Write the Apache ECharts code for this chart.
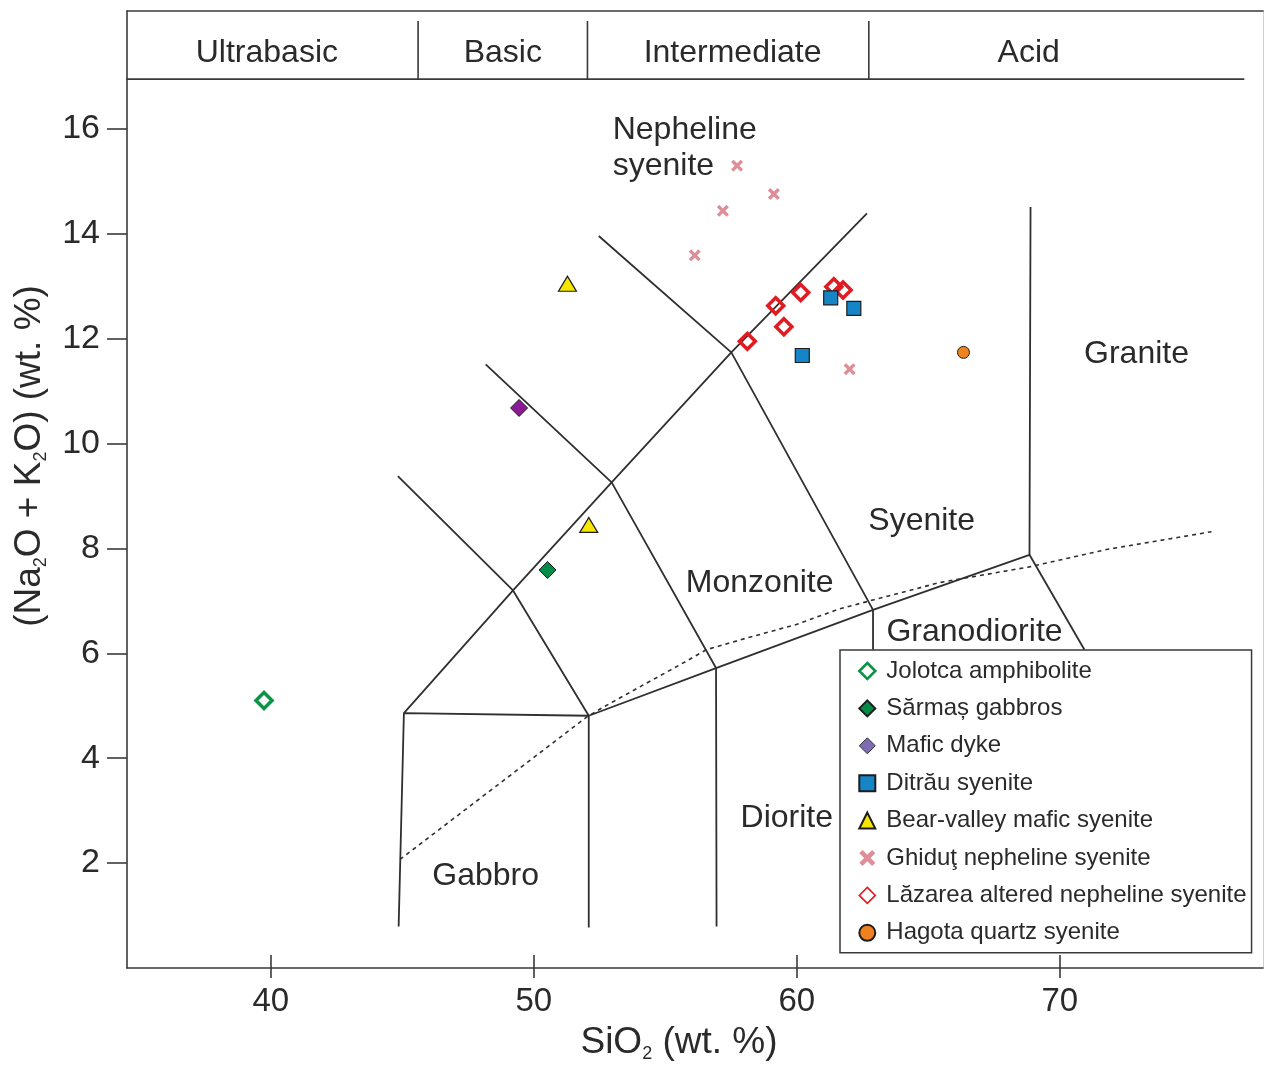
<!DOCTYPE html>
<html><head><meta charset="utf-8">
<script src="https://cdn.jsdelivr.net/npm/echarts@6/dist/echarts.min.js"></script>
<style>html,body{margin:0;padding:0;background:#fff}#c{width:1264px;height:1065px}</style>
</head><body><div id="c"></div>
<script>
// ---------- data ----------
const xTicks = [40, 50, 60, 70];
const yTicks = [2, 4, 6, 8, 10, 12, 14, 16];

const seriesNames = ['Jolotca amphibolite','Sărmaș gabbros','Mafic dyke','Ditrău syenite',
  'Bear-valley mafic syenite','Ghiduţ nepheline syenite','Lăzarea altered nepheline syenite','Hagota quartz syenite'];

const jolotca = [[39.74, 5.10]];
const sarmas = [[50.52, 7.59]];
const maficDyke = [[49.44, 10.68]];
const ditrau = [[61.29, 12.78], [62.17, 12.58], [60.21, 11.68]];
const bearValley = [[51.28, 13.05], [52.09, 8.45]];
const ghidut = [[57.73, 15.30], [59.13, 14.76], [57.19, 14.44], [56.12, 13.59], [62.01, 11.42]];
const lazarea = [[58.12, 11.95], [59.20, 12.63], [59.51, 12.23], [60.15, 12.88], [61.41, 12.99], [61.76, 12.93]];
const hagota = [[66.34, 11.74]];

// TAS field boundaries (SiO2, Na2O+K2O)
const boundaries = [
  [[44.86, 0.79], [45.06, 4.86], [52.09, 4.81], [52.09, 0.77]],
  [[45.06, 4.86], [49.21, 7.20], [52.96, 9.26], [57.51, 11.74], [62.67, 14.39]],
  [[44.83, 9.38], [49.21, 7.20], [52.09, 4.81]],
  [[48.17, 11.51], [52.96, 9.26], [56.93, 5.72], [56.95, 0.79]],
  [[52.47, 13.96], [57.51, 11.74], [62.90, 6.83], [62.90, 6.07]],
  [[52.09, 4.81], [56.93, 5.72], [62.90, 6.83], [68.85, 7.88], [68.89, 14.51]],
  [[68.85, 7.88], [70.94, 6.07]]
];
// alkaline / subalkaline divide
const alkalineDivide = [[44.91, 2.07], [52.05, 4.80], [52.70, 4.99], [54.28, 5.43], [55.55, 5.78],
  [56.56, 6.07], [58.08, 6.29], [59.98, 6.55], [61.63, 6.85], [62.77, 7.00], [65.43, 7.35],
  [68.85, 7.65], [71.78, 7.98], [75.77, 8.32]];

// header band (silica classes)
const headerNames = ['Ultrabasic', 'Basic', 'Intermediate', 'Acid'];
const headerCenters = [39.85, 48.82, 57.56, 68.82];
const headerDividers = [45.60, 52.04, 62.74];
const headerLineY = 16.95, headerTopY = 18.06, headerLineX = [33.77, 77.02], headerTextY = 17.51;

// field names
const fieldNames = ['Nepheline\nsyenite', 'Monzonite', 'Syenite', 'Granodiorite', 'Granite', 'Diorite', 'Gabbro'];
const fieldAnchors = [[53.00, 15.70], [58.59, 7.40], [64.75, 8.57], [66.76, 6.47], [72.92, 11.77], [59.62, 2.91], [48.17, 1.80]];
const fieldAlign = ['left', 'center', 'center', 'center', 'center', 'center', 'center'];

// ---------- chart ----------
const FONT = '"Liberation Sans", Arial, Helvetica, sans-serif';
const TXT = '#2a2a2a';
const LINE = '#2f2f2f';
const AX = '#3a3a3a';
const xMin = 34.53, xMax = 77.73, yMin = 0, yMax = 18.25;

const xPath = 'path://M0,2 L2,0 L5,3 L8,0 L10,2 L7,5 L10,8 L8,10 L5,7 L2,10 L0,8 L3,5 Z';

const series = [];
boundaries.forEach(seg => series.push({
  type: 'line', data: seg, symbol: 'none', silent: true, z: 1, clip: false,
  lineStyle: { color: LINE, width: 1.8 }
}));
series.push({
  type: 'line', data: alkalineDivide, symbol: 'none', silent: true, z: 1, smooth: false,
  lineStyle: { color: LINE, width: 1.6, type: [4, 4] }
});
// header band lines
series.push({
  type: 'line', data: headerLineX.map(x => [x, headerLineY]), symbol: 'none', silent: true, clip: false,
  lineStyle: { color: AX, width: 1.6 }
});
headerDividers.forEach(d => series.push({
  type: 'line', data: [[d, headerLineY], [d, headerTopY]], symbol: 'none', silent: true, clip: false,
  lineStyle: { color: AX, width: 1.6 }
}));
// header labels
series.push({
  type: 'scatter', symbolSize: 0, silent: true, z: 3, itemStyle: { opacity: 1 },
  data: headerNames.map((n, i) => ({ value: [headerCenters[i], headerTextY], name: n })),
  label: { show: true, position: 'inside', offset: [0, 3], formatter: p => p.name, fontSize: 32, color: TXT, fontFamily: FONT }
});
// field labels
series.push({
  type: 'scatter', symbolSize: 0, silent: true, z: 3, itemStyle: { opacity: 1 },
  data: fieldNames.map((n, i) => ({
    value: fieldAnchors[i], name: n,
    label: { align: fieldAlign[i] }
  })),
  label: { show: true, position: [0, 0], offset: [0, 3], verticalAlign: 'middle', formatter: p => p.name,
    fontSize: 32, lineHeight: 36, color: TXT, fontFamily: FONT }
});

const pts = (name, data, symbol, size, style) => ({
  type: 'scatter', name, data, symbol, symbolSize: size, z: 5,
  itemStyle: Object.assign({ opacity: 1 }, style)
});
series.push(pts(seriesNames[0], jolotca, 'diamond', 16, { color: 'rgba(255,255,255,0)', borderColor: '#0a9446', borderWidth: 3.5 }));
series.push(pts(seriesNames[1], sarmas, 'diamond', 17, { color: '#008d47', borderColor: '#1d1d1d', borderWidth: 1 }));
series.push(pts(seriesNames[2], maficDyke, 'diamond', 17, { color: '#8a1a95', borderColor: '#1d1d1d', borderWidth: 1 }));
series.push(pts(seriesNames[6], lazarea, 'diamond', 16, { color: 'rgba(255,255,255,0)', borderColor: '#e01b22', borderWidth: 3.5 }));
series.push(pts(seriesNames[3], ditrau, 'rect', 14, { color: '#1685c7', borderColor: '#1d1d1d', borderWidth: 1.2 }));
series.push(pts(seriesNames[4], bearValley, 'triangle', [18, 15], { color: '#f7e600', borderColor: '#1d1d1d', borderWidth: 1.2 }));
series.push(pts(seriesNames[5], ghidut, xPath, 12, { color: '#de8e98' }));
series.push(pts(seriesNames[7], hagota, 'circle', 12, { color: '#ef8220', borderColor: '#1d1d1d', borderWidth: 1 }));

const legendData = seriesNames.map(n => {
  if (n === 'Mafic dyke') return { name: n, itemStyle: { color: '#7d6bb3', borderColor: '#333', borderWidth: 1 } };
  if (n.indexOf('Lăzarea') === 0) return { name: n, itemStyle: { borderWidth: 1.6 } };
  if (n.indexOf('Jolotca') === 0) return { name: n, itemStyle: { borderWidth: 2.6 } };
  return { name: n };
});

const option = {
  animation: false,
  backgroundColor: '#fff',
  textStyle: { fontFamily: FONT },
  grid: { left: 127, right: 1, top: 11, bottom: 97 },
  xAxis: [
    { type: 'value', min: xMin, max: xMax, position: 'bottom', splitLine: { show: false },
      axisLine: { show: true, onZero: false, lineStyle: { color: AX, width: 1.6 } },
      axisTick: { show: true, customValues: xTicks, inside: false, length: 10, lineStyle: { color: AX, width: 1.6 } },
      axisLabel: { customValues: xTicks, fontSize: 33, color: TXT, margin: 17, fontFamily: FONT } },
    { type: 'value', min: xMin, max: xMax, position: 'bottom', splitLine: { show: false },
      axisLine: { show: false, onZero: false },
      axisTick: { show: true, customValues: xTicks, inside: true, length: 13, lineStyle: { color: AX, width: 1.6 } },
      axisLabel: { show: false } },
    { type: 'value', min: xMin, max: xMax, position: 'top', splitLine: { show: false },
      axisLine: { show: true, onZero: false, lineStyle: { color: AX, width: 1.6 } },
      axisTick: { show: false }, axisLabel: { show: false } }
  ],
  yAxis: [
    { type: 'value', min: yMin, max: yMax, position: 'left', splitLine: { show: false },
      axisLine: { show: true, onZero: false, lineStyle: { color: AX, width: 1.6 } },
      axisTick: { show: true, customValues: yTicks, inside: false, length: 20, lineStyle: { color: AX, width: 1.6 } },
      axisLabel: { customValues: yTicks, fontSize: 34, color: TXT, margin: 27, fontFamily: FONT } },
    { type: 'value', min: yMin, max: yMax, position: 'right', splitLine: { show: false },
      axisLine: { show: true, onZero: false, lineStyle: { color: '#d0d0d0', width: 1 } },
      axisTick: { show: false }, axisLabel: { show: false } }
  ],
  legend: {
    orient: 'vertical', left: 840, top: 650, data: legendData,
    itemWidth: 16, itemHeight: 16, itemGap: 13.4, padding: [9, 5, 8, 18],
    backgroundColor: '#fff', borderColor: AX, borderWidth: 1.5, borderRadius: 0,
    textStyle: { fontSize: 24, color: TXT, fontFamily: FONT, lineHeight: 24, padding: [0, 0, 0, 6] },
    selectedMode: false, z: 10
  },
  graphic: [
    { type: 'text', x: 679, y: 1043, z: 10,
      style: { text: 'SiO{s|2} (wt. %)', fontSize: 37, fontFamily: FONT, fill: TXT, align: 'center', verticalAlign: 'middle', lineHeight: 40,
        rich: { s: { fontSize: 18, lineHeight: 18, verticalAlign: 'bottom', fill: TXT, fontFamily: FONT } } } },
    { type: 'text', x: 30, y: 456, rotation: Math.PI / 2, z: 10,
      style: { text: '(Na{s|2}O + K{s|2}O) (wt. %)', fontSize: 37, fontFamily: FONT, fill: TXT, align: 'center', verticalAlign: 'middle', lineHeight: 40,
        rich: { s: { fontSize: 18, lineHeight: 18, verticalAlign: 'bottom', fill: TXT, fontFamily: FONT } } } }
  ],
  series
};

const chart = echarts.init(document.getElementById('c'), null, { renderer: 'canvas' });
chart.setOption(option);
</script></body></html>
